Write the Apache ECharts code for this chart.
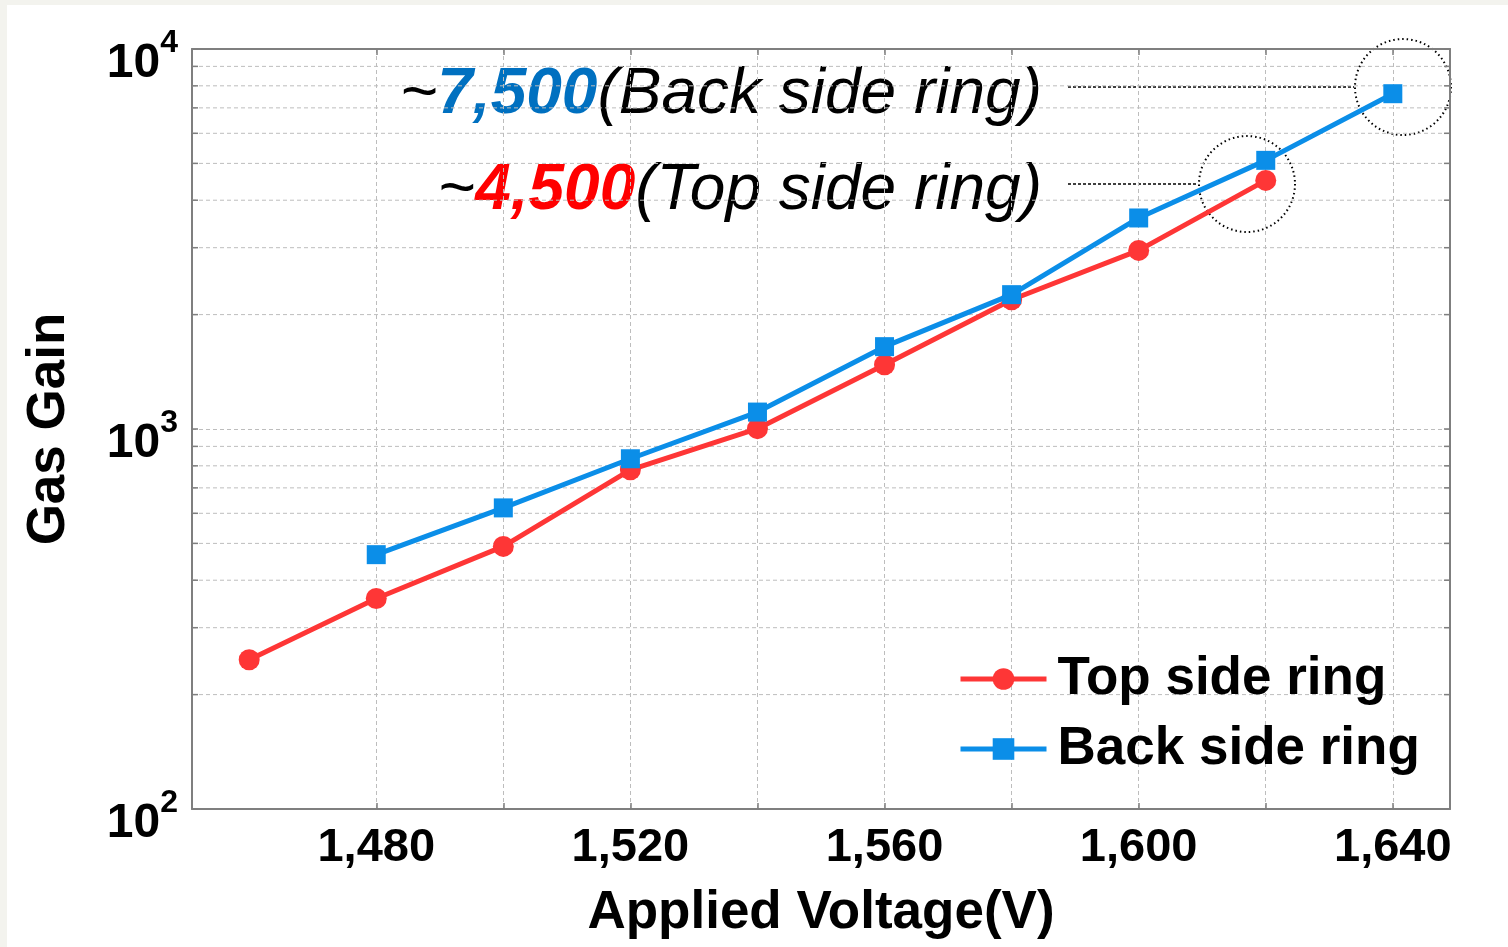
<!DOCTYPE html>
<html>
<head>
<meta charset="utf-8">
<script src="https://cdn.jsdelivr.net/npm/echarts@6/dist/echarts.min.js"></script>
<style>
  html, body { margin: 0; padding: 0; background: #f3f3ee; }
  #chart { position: absolute; left: 7px; top: 5px; width: 1501px; height: 942px; background: #fff; }
</style>
</head>
<body>
<div id="chart"></div>
<script>
// data
const topVoltage = [1460, 1480, 1500, 1520, 1540, 1560, 1580, 1600, 1620];
const topGain = [247, 358, 491, 781, 1002, 1476, 2189, 2951, 4510];
const backVoltage = [1480, 1500, 1520, 1540, 1560, 1580, 1600, 1620, 1640];
const backGain = [467, 620, 835, 1108, 1647, 2257, 3592, 5093, 7627];
const xTicks = [1480, 1500, 1520, 1540, 1560, 1580, 1600, 1620, 1640];
const xLabels = [1480, 1520, 1560, 1600, 1640];
const yMinor = [200, 300, 400, 500, 600, 700, 800, 900, 2000, 3000, 4000, 5000, 6000, 7000, 8000, 9000];

const RED = '#fe3636';
const BLUE = '#0b8ee8';
const AXIS = '#7f7f7f';
const GRIDC = '#bdbdbd';
const X_MIN = 1451, X_MAX = 1649;

const chart = echarts.init(document.getElementById('chart'));

function pairs(xs, ys) {
    return xs.map((x, i) => [x, ys[i]]);
}

const xCommon = {
    type: 'value',
    min: X_MIN,
    max: X_MAX,
    axisLine: { lineStyle: { color: AXIS, width: 2 } },
    axisTick: { inside: true, length: 6, customValues: xTicks, lineStyle: { color: AXIS, width: 1.5 } },
};

const yCommon = {
    type: 'log',
    logBase: 10,
    min: 100,
    max: 10000,
    splitNumber: 2,
    axisLine: { lineStyle: { color: AXIS, width: 2 } },
    axisTick: { inside: true, length: 6, lineStyle: { color: AXIS, width: 1.5 } },
};

function noteRich(color) {
    const base = { fontSize: 64, fontStyle: 'italic', fill: '#000', fontFamily: 'Liberation Sans' };
    return {
        t: base,
        n: Object.assign({}, base, { fontWeight: 'bold', fill: color }),
        r: base
    };
}

const option = {
    animation: false,
    textStyle: { fontFamily: 'Liberation Sans, Arial, sans-serif' },
    grid: { left: 185, top: 44, right: 58, bottom: 138, containLabel: false },
    xAxis: [
        Object.assign({}, xCommon, {
            position: 'bottom',
            name: 'Applied Voltage(V)',
            nameLocation: 'middle',
            nameGap: 78,
            nameTextStyle: { fontSize: 53, fontWeight: 'bold', color: '#000' },
            axisLabel: {
                customValues: xLabels,
                margin: 16,
                fontSize: 47,
                fontWeight: 'bold',
                color: '#000',
                formatter: v => v.toLocaleString('en-US')
            },
            splitLine: { show: true, lineStyle: { color: GRIDC, type: [4, 3], width: 1 } }
        }),
        Object.assign({}, xCommon, {
            position: 'top',
            axisLabel: { show: false },
            splitLine: { show: false }
        })
    ],
    yAxis: [
        Object.assign({}, yCommon, {
            position: 'left',
            name: 'Gas Gain',
            nameLocation: 'middle',
            nameGap: 116,
            nameTextStyle: { fontSize: 53, fontWeight: 'bold', color: '#000' },
            axisLabel: {
                margin: 14,
                formatter: v => '{b|10}{s|' + Math.round(Math.log10(v)) + '}',
                rich: {
                    b: { fontSize: 48, fontWeight: 'bold', color: '#000', padding: [30, 0, 0, 0] },
                    s: { fontSize: 32, fontWeight: 'bold', color: '#000', padding: [0, 0, 12, 0] }
                }
            },
            splitLine: { show: true, lineStyle: { color: GRIDC, type: [4, 3], width: 1 } }
        }),
        Object.assign({}, yCommon, {
            position: 'right',
            axisLabel: { show: false },
            splitLine: { show: false }
        })
    ],
    legend: {
        orient: 'vertical',
        left: 946,
        top: 639,
        itemWidth: 86,
        itemHeight: 27,
        itemGap: 10,
        lineStyle: { width: 5 },
        textStyle: { fontSize: 53, fontWeight: 'bold', color: '#000', lineHeight: 60, padding: [0, 0, 0, 6] },
        data: ['Top side ring', 'Back side ring']
    },
    series: [
        {
            // minor log gridlines and ticks on left/right borders
            type: 'custom',
            silent: true,
            z: 1,
            xAxisIndex: 0,
            yAxisIndex: 0,
            data: yMinor.map(v => [X_MIN, v]),
            renderItem: function (params, api) {
                const pt = api.coord([X_MIN, api.value(1)]);
                const cs = params.coordSys;
                const y = pt[1];
                return {
                    type: 'group',
                    children: [
                        { type: 'line', shape: { x1: cs.x, y1: y, x2: cs.x + cs.width, y2: y },
                          style: { stroke: GRIDC, lineWidth: 1, lineDash: [4, 3] } },
                        { type: 'line', shape: { x1: cs.x, y1: y, x2: cs.x + 6, y2: y },
                          style: { stroke: AXIS, lineWidth: 1.5 } },
                        { type: 'line', shape: { x1: cs.x + cs.width - 6, y1: y, x2: cs.x + cs.width, y2: y },
                          style: { stroke: AXIS, lineWidth: 1.5 } }
                    ]
                };
            }
        },
        {
            name: 'Top side ring',
            type: 'line',
            z: 3,
            data: pairs(topVoltage, topGain),
            symbol: 'circle',
            symbolSize: 21,
            lineStyle: { color: RED, width: 5 },
            itemStyle: { color: RED }
        },
        {
            name: 'Back side ring',
            type: 'line',
            z: 4,
            data: pairs(backVoltage, backGain),
            symbol: 'rect',
            symbolSize: 19,
            lineStyle: { color: BLUE, width: 5 },
            itemStyle: { color: BLUE }
        }
    ],
    graphic: [
        {
            type: 'text',
            x: 1035, y: 90,
            style: {
                text: '{t|~}{n|7,500}{r|(Back side ring)}',
                align: 'right',
                verticalAlign: 'middle',
                rich: noteRich('#0070c0')
            }
        },
        {
            type: 'text',
            x: 1035, y: 186,
            style: {
                text: '{t|~}{n|4,500}{r|(Top side ring)}',
                align: 'right',
                verticalAlign: 'middle',
                rich: noteRich('#ff0000')
            }
        },
        {
            type: 'line',
            shape: { x1: 1061, y1: 82, x2: 1347, y2: 82 },
            style: { stroke: '#000', lineWidth: 1.5, lineDash: [3, 2] }
        },
        {
            type: 'line',
            shape: { x1: 1061, y1: 179, x2: 1191, y2: 179 },
            style: { stroke: '#000', lineWidth: 1.5, lineDash: [3, 2] }
        },
        {
            type: 'circle',
            shape: { cx: 1396, cy: 82, r: 48 },
            style: { fill: 'none', stroke: '#000', lineWidth: 2, lineDash: [1.5, 3] }
        },
        {
            type: 'circle',
            shape: { cx: 1240, cy: 179, r: 48 },
            style: { fill: 'none', stroke: '#000', lineWidth: 2, lineDash: [1.5, 3] }
        }
    ]
};

chart.setOption(option);
</script>
</body>
</html>
